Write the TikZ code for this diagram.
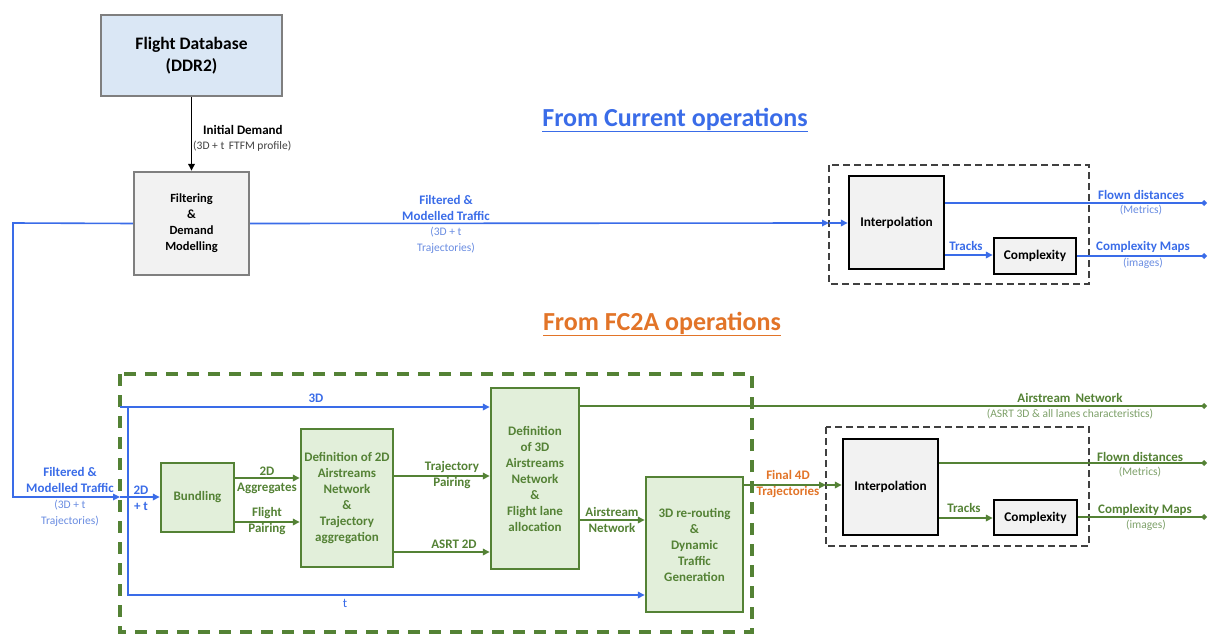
\documentclass[tikz,border=0pt]{standalone}
\usepackage{fontspec}
\setmainfont{Carlito}
\usetikzlibrary{arrows.meta}
\definecolor{cblue}{RGB}{58,108,232}
\definecolor{cblueL}{RGB}{105,140,225}
\definecolor{cgreen}{RGB}{84,130,53}
\definecolor{cgreenL}{RGB}{125,160,105}
\definecolor{corange}{RGB}{226,116,40}
\definecolor{fillblue}{RGB}{218,231,245}
\definecolor{fillgray}{RGB}{242,242,242}
\definecolor{fillgreen}{RGB}{226,239,218}
\definecolor{bordgray}{RGB}{127,127,127}
\definecolor{dashgray}{RGB}{64,64,64}
\tikzset{
  box/.style={draw, rectangle, line width=2.4pt, inner sep=2pt, align=center,
    font=\fontsize{13}{16}\selectfont\bfseries},
  gbox/.style={box, draw=cgreen, fill=fillgreen, text=cgreen},
  kbox/.style={box, draw=black, fill=fillgray, font=\fontsize{13.3}{16}\selectfont\bfseries},
  grbox/.style={box, draw=bordgray},
  lbl/.style={align=center, inner sep=0pt, font=\fontsize{13}{16}\selectfont\bfseries},
  sub/.style={align=center, inner sep=0pt, font=\fontsize{11.5}{16}\selectfont},
  tip/.style={-{Triangle[length=7pt,width=6.5pt]}},
  bline/.style={draw=cblue, line width=1.6pt},
  gline/.style={draw=cgreen, line width=1.6pt},
  dia/.style={-{Turned Square[length=6pt,width=6pt]}},
  gdash/.style={draw=cgreen, line width=3.5pt, dash pattern=on 12pt off 9pt},
  kdash/.style={draw=dashgray, line width=2.4pt, dash pattern=on 7pt off 4pt},
}
\begin{document}
\begin{tikzpicture}[x=1pt,y=-1pt]
\useasboundingbox (0,0) rectangle (1213,634);

% titles
\node (t1) [inner sep=0pt, text=cblue, font=\fontsize{26}{30}\selectfont\bfseries] at (675,120) {\underline{From Current operations}};
\node (t2) [inner sep=0pt, text=corange, font=\fontsize{26}{30}\selectfont\bfseries] at (662,324) {\underline{From FC2A operations}};

% dashed frames
\draw[gdash] (120,374) rectangle (752,632);
\coordinate (dA) at (829,165); \coordinate (dB) at (1089,284);
\draw[kdash] (dA) rectangle (dB);
\coordinate (dC) at (826,427); \coordinate (dD) at (1089,546);
\draw[kdash] (dC) rectangle (dD);

% top part
\node (db) [box, draw=bordgray, fill=fillblue, minimum width=181pt, minimum height=81pt,
  font=\fontsize{17.5}{22}\selectfont\bfseries] at (191.5,55.5) {Flight Database\\(DDR2)};
\node (filt) [grbox, fill=fillgray, minimum width=115pt, minimum height=103pt,
  font=\fontsize{12.5}{16}\selectfont\bfseries] at (191.5,223.5)
  {Filtering\\\&\\Demand\\Modelling};
\draw[line width=1.6pt, tip] (db.south) -- (filt.north);
\node (idl) [lbl, anchor=west] at (203,130) {Initial Demand};
\node (ids) [sub, anchor=west, text=black!75] at (193,146) {(3D + t\, FTFM profile)};

\node (int1) [kbox, minimum width=95pt, minimum height=93pt] at (896.5,222.5) {Interpolation};
\node (cx1) [kbox, minimum width=82pt, minimum height=36pt] at (1035,256) {Complexity};

\coordinate (in1) at (829,223);
\draw[bline, tip] (filt.east) -- (in1);
\draw[bline, tip] (in1) -- (int1.west |- in1);
\node (fm1) [lbl, text=cblue] at (446,208) {Filtered \&\\Modelled Traffic};
\node (fm1s) [sub, text=cblueL] at (446,240) {(3D + t\\Trajectories)};

\coordinate (fd1) at (1207,203);
\draw[bline, dia] (int1.east |- fd1) -- (fd1);
\node (fd1l) [lbl, text=cblue] at (1141,195) {Flown distances};
\node (fd1s) [sub, text=cblueL] at (1141,210) {(Metrics)};
\draw[bline, tip] (int1.east |- 0,255) -- (cx1.west |- 0,255);
\node (tr1) [lbl, text=cblue] at (966,246) {Tracks};
\coordinate (cm1) at (1207,256);
\draw[bline, dia] (cx1.east |- cm1) -- (cm1);
\node (cm1l) [lbl, text=cblue] at (1143,247) {Complexity Maps};
\node (cm1s) [sub, text=cblueL] at (1143,263) {(images)};

% feed to lower part
\coordinate (fl1) at (13,223);
\coordinate (fl2) at (13,497);
\coordinate (fl3) at (120,497);
\draw[bline, tip] (filt.west) -- (fl1) -- (fl2) -- (fl3);
\node (fm2) [lbl, text=cblue] at (70,480) {Filtered \&\\Modelled Traffic};
\node (fm2s) [sub, text=cblueL] at (70,513) {(3D + t\\Trajectories)};

% lower blocks
\node (bund) [gbox, minimum width=73pt, minimum height=69pt] at (197.5,497.5) {Bundling};
\node (d2) [gbox, minimum width=92pt, minimum height=138pt] at (347,498)
  {Definition of 2D\\Airstreams\\Network\\\&\\Trajectory\\aggregation};
\node (d3) [gbox, minimum width=88pt, minimum height=181pt] at (535,478.5)
  {Definition\\of 3D\\Airstreams\\Network\\\&\\Flight lane\\allocation};
\node (rr) [gbox, minimum width=97pt, minimum height=135pt] at (694.5,544.5)
  {3D re-routing\\\&\\Dynamic\\Traffic\\Generation};

\draw[bline, tip] (fl3) -- (bund.west |- fl3);
\node (twod) [lbl, text=cblue] at (141,498) {2D\\+ t};
\coordinate (b3a) at (120,407);
\coordinate (b3b) at (128,407);
\coordinate (bta) at (128,595);
\draw[bline, tip] (b3a) -- (d3.west |- b3a);
\draw[bline, tip] (b3b) -- (bta) -- (rr.west |- bta);
\node (l3d) [lbl, text=cblue] at (316,398) {3D};
\node (lt) [lbl, text=cblue, font=\fontsize{13}{16}\selectfont] at (345,603) {t};

\draw[gline, tip] (bund.east |- 0,478) -- (d2.west |- 0,478);
\node (agg) [lbl, text=cgreen] at (267,480) {2D\\Aggregates};
\draw[gline, tip] (bund.east |- 0,522) -- (d2.west |- 0,522);
\node (fp) [lbl, text=cgreen] at (267,521) {Flight\\Pairing};
\draw[gline, tip] (d2.east |- 0,476) -- (d3.west |- 0,476);
\node (tp) [lbl, text=cgreen] at (452,475) {Trajectory\\Pairing};
\draw[gline, tip] (d2.east |- 0,552) -- (d3.west |- 0,552);
\node (asrt) [lbl, text=cgreen] at (454,544) {ASRT 2D};
\draw[gline, tip] (d3.east |- 0,520) -- (rr.west |- 0,520);
\node (an) [lbl, text=cgreen] at (612,520) {Airstream\\Network};

\coordinate (anE) at (1207,406);
\draw[gline, dia] (d3.east |- anE) -- (anE);
\node (anl) [lbl, text=cgreen] at (1070,398) {Airstream\, Network};
\node (ans) [sub, text=cgreenL] at (1070,414) {(ASRT 3D \& all lanes characteristics)};

\node (int2) [kbox, minimum width=95pt, minimum height=96pt] at (890.5,487) {Interpolation};
\node (cx2) [kbox, minimum width=83pt, minimum height=35pt] at (1035.5,517.5) {Complexity};

\coordinate (in2) at (826,485);
\draw[gline, tip] (rr.east |- in2) -- (in2);
\draw[gline, tip] (in2) -- (int2.west |- in2);
\node (f4d) [lbl, text=corange] at (788,484) {Final 4D\\Trajectories};

\coordinate (fd2) at (1207,463);
\draw[gline, dia] (int2.east |- fd2) -- (fd2);
\node (fd2l) [lbl, text=cgreen] at (1140,457) {Flown distances};
\node (fd2s) [sub, text=cgreenL] at (1140,472) {(Metrics)};
\draw[gline, tip] (int2.east |- 0,518) -- (cx2.west |- 0,518);
\node (tr2) [lbl, text=cgreen] at (964,508) {Tracks};
\coordinate (cm2) at (1207,517);
\draw[gline, dia] (cx2.east |- cm2) -- (cm2);
\node (cm2l) [lbl, text=cgreen] at (1145,510) {Complexity Maps};
\node (cm2s) [sub, text=cgreenL] at (1146,525) {(images)};
\end{tikzpicture}
\end{document}
